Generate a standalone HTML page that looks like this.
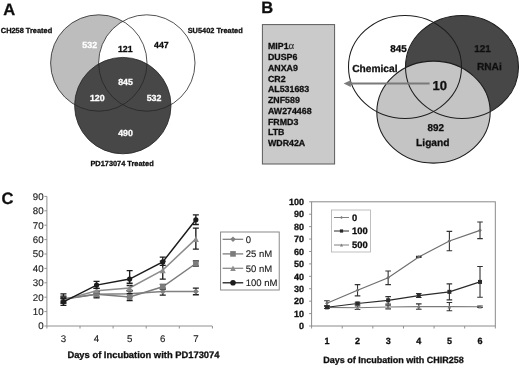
<!DOCTYPE html><html><head><meta charset="utf-8"><title>Figure</title>
<style>html,body{margin:0;padding:0;background:#fff;}svg{display:block;}text{font-family:"Liberation Sans", Arial, sans-serif;text-rendering:geometricPrecision;}</style>
</head><body>
<svg width="520" height="366" viewBox="0 0 520 366">
<defs><filter id="soft" x="0" y="0" width="100%" height="100%" filterUnits="objectBoundingBox"><feGaussianBlur stdDeviation="0.4"/></filter></defs>
<g filter="url(#soft)">
<rect x="-5" y="-5" width="530" height="376" fill="#fff"/>
<text x="3.20" y="14.80" font-size="16.5" font-weight="bold" fill="#111" text-anchor="start" stroke="#111" stroke-width="0.3">A</text>
<circle cx="98.8" cy="63" r="48.2" fill="#bdbdbd"/>
<circle cx="146.8" cy="63" r="48.2" fill="#fff"/>
<circle cx="122.8" cy="105.6" r="48.2" fill="#474747"/>
<circle cx="98.8" cy="63" r="48.2" fill="none" stroke="#262626" stroke-width="0.8"/>
<circle cx="146.8" cy="63" r="48.2" fill="none" stroke="#262626" stroke-width="0.8"/>
<circle cx="122.8" cy="105.6" r="48.2" fill="none" stroke="#262626" stroke-width="0.8"/>
<text x="0.80" y="32.80" font-size="7.4" font-weight="bold" fill="#111" text-anchor="start" stroke="#111" stroke-width="0.3">CH258 Treated</text>
<text x="187.70" y="32.80" font-size="7.4" font-weight="bold" fill="#111" text-anchor="start" stroke="#111" stroke-width="0.3">SU5402 Treated</text>
<text x="90.40" y="165.70" font-size="7.4" font-weight="bold" fill="#111" text-anchor="start" stroke="#111" stroke-width="0.3">PD173074 Treated</text>
<text x="89.70" y="48.00" font-size="8.8" font-weight="bold" fill="#fff" text-anchor="middle" stroke="#fff" stroke-width="0.3">532</text>
<text x="125.30" y="52.40" font-size="8.8" font-weight="bold" fill="#111" text-anchor="middle" stroke="#111" stroke-width="0.3">121</text>
<text x="161.40" y="48.10" font-size="8.8" font-weight="bold" fill="#111" text-anchor="middle" stroke="#111" stroke-width="0.3">447</text>
<text x="125.50" y="84.80" font-size="8.8" font-weight="bold" fill="#fff" text-anchor="middle" stroke="#fff" stroke-width="0.3">845</text>
<text x="97.30" y="101.00" font-size="8.8" font-weight="bold" fill="#fff" text-anchor="middle" stroke="#fff" stroke-width="0.3">120</text>
<text x="154.00" y="101.00" font-size="8.8" font-weight="bold" fill="#fff" text-anchor="middle" stroke="#fff" stroke-width="0.3">532</text>
<text x="125.50" y="135.60" font-size="8.8" font-weight="bold" fill="#fff" text-anchor="middle" stroke="#fff" stroke-width="0.3">490</text>
<text x="261.20" y="13.30" font-size="16.5" font-weight="bold" fill="#111" text-anchor="start" stroke="#111" stroke-width="0.3">B</text>
<rect x="262.4" y="24.6" width="72.2" height="139.4" fill="#cacaca" stroke="#5a5a5a" stroke-width="1"/>
<text x="268.00" y="49.30" font-size="8.8" font-weight="bold" fill="#111" text-anchor="start" stroke="#111" stroke-width="0.3">MIP1<tspan font-weight="normal" font-size="10.8" stroke="#333" stroke-width="0.2" font-family="Liberation Serif, serif" fill="#333">α</tspan></text>
<text x="268.00" y="60.07" font-size="8.8" font-weight="bold" fill="#111" text-anchor="start" stroke="#111" stroke-width="0.3">DUSP6</text>
<text x="268.00" y="70.84" font-size="8.8" font-weight="bold" fill="#111" text-anchor="start" stroke="#111" stroke-width="0.3">ANXA9</text>
<text x="268.00" y="81.61" font-size="8.8" font-weight="bold" fill="#111" text-anchor="start" stroke="#111" stroke-width="0.3">CR2</text>
<text x="268.00" y="92.38" font-size="8.8" font-weight="bold" fill="#111" text-anchor="start" stroke="#111" stroke-width="0.3">AL531683</text>
<text x="268.00" y="103.15" font-size="8.8" font-weight="bold" fill="#111" text-anchor="start" stroke="#111" stroke-width="0.3">ZNF589</text>
<text x="268.00" y="113.92" font-size="8.8" font-weight="bold" fill="#111" text-anchor="start" stroke="#111" stroke-width="0.3">AW274468</text>
<text x="268.00" y="124.69" font-size="8.8" font-weight="bold" fill="#111" text-anchor="start" stroke="#111" stroke-width="0.3">FRMD3</text>
<text x="268.00" y="135.46" font-size="8.8" font-weight="bold" fill="#111" text-anchor="start" stroke="#111" stroke-width="0.3">LTB</text>
<text x="268.00" y="146.23" font-size="8.8" font-weight="bold" fill="#111" text-anchor="start" stroke="#111" stroke-width="0.3">WDR42A</text>
<ellipse cx="462" cy="66.9" rx="56.5" ry="51.5" fill="#474747"/>
<ellipse cx="433.5" cy="112.1" rx="56.7" ry="51" fill="#c4c4c4"/>
<ellipse cx="462" cy="66.9" rx="56.5" ry="51.5" fill="none" stroke="#1e1e1e" stroke-width="1.05"/>
<ellipse cx="433.5" cy="112.1" rx="56.7" ry="51" fill="none" stroke="#1e1e1e" stroke-width="1.05"/>
<ellipse cx="405" cy="66.9" rx="56.5" ry="51.5" fill="none" stroke="#1e1e1e" stroke-width="1.05"/>
<line x1="349" y1="83.6" x2="429.6" y2="83.6" stroke="#7a7a7a" stroke-width="2"/>
<polygon points="343.6,83.6 350.8,80.2 350.8,87" fill="#7a7a7a"/>
<text x="398.40" y="52.00" font-size="9.9" font-weight="bold" fill="#111" text-anchor="middle" stroke="#111" stroke-width="0.3">845</text>
<text x="482.40" y="52.00" font-size="9.9" font-weight="bold" fill="#111" text-anchor="middle" stroke="#111" stroke-width="0.3">121</text>
<text x="352.20" y="72.20" font-size="10.2" font-weight="bold" fill="#111" text-anchor="start" stroke="#111" stroke-width="0.3">Chemical</text>
<text x="476.90" y="70.40" font-size="10.2" font-weight="bold" fill="#111" text-anchor="start" stroke="#111" stroke-width="0.3">RNAi</text>
<text x="432.50" y="90.10" font-size="13" font-weight="bold" fill="#111" text-anchor="start" stroke="#111" stroke-width="0.3">10</text>
<text x="435.70" y="130.60" font-size="9.9" font-weight="bold" fill="#111" text-anchor="middle" stroke="#111" stroke-width="0.3">892</text>
<text x="416.10" y="145.80" font-size="10.2" font-weight="bold" fill="#111" text-anchor="start" stroke="#111" stroke-width="0.3">Ligand</text>
<text x="1.50" y="203.50" font-size="16.5" font-weight="bold" fill="#111" text-anchor="start" stroke="#111" stroke-width="0.3">C</text>
<line x1="46.9" y1="196.4" x2="46.9" y2="326" stroke="#909090" stroke-width="1"/>
<line x1="46.9" y1="326" x2="212.3" y2="326" stroke="#909090" stroke-width="1"/>
<line x1="44.4" y1="326.00" x2="46.9" y2="326.00" stroke="#909090" stroke-width="1"/>
<text x="43.60" y="329.45" font-size="9.7" font-weight="normal" fill="#222" text-anchor="end" stroke="#222" stroke-width="0.15">0</text>
<line x1="44.4" y1="311.60" x2="46.9" y2="311.60" stroke="#909090" stroke-width="1"/>
<text x="43.60" y="315.05" font-size="9.7" font-weight="normal" fill="#222" text-anchor="end" stroke="#222" stroke-width="0.15">10</text>
<line x1="44.4" y1="297.20" x2="46.9" y2="297.20" stroke="#909090" stroke-width="1"/>
<text x="43.60" y="300.65" font-size="9.7" font-weight="normal" fill="#222" text-anchor="end" stroke="#222" stroke-width="0.15">20</text>
<line x1="44.4" y1="282.80" x2="46.9" y2="282.80" stroke="#909090" stroke-width="1"/>
<text x="43.60" y="286.25" font-size="9.7" font-weight="normal" fill="#222" text-anchor="end" stroke="#222" stroke-width="0.15">30</text>
<line x1="44.4" y1="268.40" x2="46.9" y2="268.40" stroke="#909090" stroke-width="1"/>
<text x="43.60" y="271.85" font-size="9.7" font-weight="normal" fill="#222" text-anchor="end" stroke="#222" stroke-width="0.15">40</text>
<line x1="44.4" y1="254.00" x2="46.9" y2="254.00" stroke="#909090" stroke-width="1"/>
<text x="43.60" y="257.45" font-size="9.7" font-weight="normal" fill="#222" text-anchor="end" stroke="#222" stroke-width="0.15">50</text>
<line x1="44.4" y1="239.60" x2="46.9" y2="239.60" stroke="#909090" stroke-width="1"/>
<text x="43.60" y="243.05" font-size="9.7" font-weight="normal" fill="#222" text-anchor="end" stroke="#222" stroke-width="0.15">60</text>
<line x1="44.4" y1="225.20" x2="46.9" y2="225.20" stroke="#909090" stroke-width="1"/>
<text x="43.60" y="228.65" font-size="9.7" font-weight="normal" fill="#222" text-anchor="end" stroke="#222" stroke-width="0.15">70</text>
<line x1="44.4" y1="210.80" x2="46.9" y2="210.80" stroke="#909090" stroke-width="1"/>
<text x="43.60" y="214.25" font-size="9.7" font-weight="normal" fill="#222" text-anchor="end" stroke="#222" stroke-width="0.15">80</text>
<line x1="44.4" y1="196.40" x2="46.9" y2="196.40" stroke="#909090" stroke-width="1"/>
<text x="43.60" y="199.85" font-size="9.7" font-weight="normal" fill="#222" text-anchor="end" stroke="#222" stroke-width="0.15">90</text>
<line x1="46.90" y1="326" x2="46.90" y2="328.5" stroke="#909090" stroke-width="1"/>
<line x1="80.00" y1="326" x2="80.00" y2="328.5" stroke="#909090" stroke-width="1"/>
<line x1="113.10" y1="326" x2="113.10" y2="328.5" stroke="#909090" stroke-width="1"/>
<line x1="146.20" y1="326" x2="146.20" y2="328.5" stroke="#909090" stroke-width="1"/>
<line x1="179.30" y1="326" x2="179.30" y2="328.5" stroke="#909090" stroke-width="1"/>
<line x1="212.40" y1="326" x2="212.40" y2="328.5" stroke="#909090" stroke-width="1"/>
<text x="63.45" y="342.10" font-size="9.7" font-weight="normal" fill="#222" text-anchor="middle" stroke="#222" stroke-width="0.15">3</text>
<text x="96.55" y="342.10" font-size="9.7" font-weight="normal" fill="#222" text-anchor="middle" stroke="#222" stroke-width="0.15">4</text>
<text x="129.65" y="342.10" font-size="9.7" font-weight="normal" fill="#222" text-anchor="middle" stroke="#222" stroke-width="0.15">5</text>
<text x="162.75" y="342.10" font-size="9.7" font-weight="normal" fill="#222" text-anchor="middle" stroke="#222" stroke-width="0.15">6</text>
<text x="195.85" y="342.10" font-size="9.7" font-weight="normal" fill="#222" text-anchor="middle" stroke="#222" stroke-width="0.15">7</text>
<text x="67.40" y="357.70" font-size="9.4" font-weight="bold" fill="#111" text-anchor="start" stroke="#111" stroke-width="0.3">Days of Incubation with PD173074</text>
<polyline points="63.45,298.64 96.55,294.32 129.65,293.74 162.75,291.58 195.85,291.44" fill="none" stroke="#808080" stroke-width="1.5"/>
<path d="M63.45 296.14V301.14M60.45 296.14H66.45M60.45 301.14H66.45" stroke="#1e1e1e" stroke-width="1.35" fill="none"/>
<path d="M96.55 291.82V296.82M93.55 291.82H99.55M93.55 296.82H99.55" stroke="#1e1e1e" stroke-width="1.35" fill="none"/>
<path d="M129.65 290.74V296.74M126.65 290.74H132.65M126.65 296.74H132.65" stroke="#1e1e1e" stroke-width="1.35" fill="none"/>
<path d="M162.75 288.08V295.08M159.75 288.08H165.75M159.75 295.08H165.75" stroke="#1e1e1e" stroke-width="1.35" fill="none"/>
<path d="M195.85 288.14V294.74M192.85 288.14H198.85M192.85 294.74H198.85" stroke="#1e1e1e" stroke-width="1.35" fill="none"/>
<polygon points="63.45,295.64 66.45,298.64 63.45,301.64 60.45,298.64" fill="#808080"/>
<polygon points="96.55,291.32 99.55,294.32 96.55,297.32 93.55,294.32" fill="#808080"/>
<polygon points="129.65,290.74 132.65,293.74 129.65,296.74 126.65,293.74" fill="#808080"/>
<polygon points="162.75,288.58 165.75,291.58 162.75,294.58 159.75,291.58" fill="#808080"/>
<polygon points="195.85,288.44 198.85,291.44 195.85,294.44 192.85,291.44" fill="#808080"/>
<polyline points="63.45,299.36 96.55,294.32 129.65,297.06 162.75,286.83 195.85,263.50" fill="none" stroke="#7c7c7c" stroke-width="1.5"/>
<path d="M63.45 293.86V302.86M60.45 293.86H66.45M60.45 302.86H66.45" stroke="#1e1e1e" stroke-width="1.35" fill="none"/>
<path d="M96.55 291.32V297.82M93.55 291.32H99.55M93.55 297.82H99.55" stroke="#1e1e1e" stroke-width="1.35" fill="none"/>
<path d="M129.65 293.56V300.56M126.65 293.56H132.65M126.65 300.56H132.65" stroke="#1e1e1e" stroke-width="1.35" fill="none"/>
<path d="M162.75 284.33V289.33M159.75 284.33H165.75M159.75 289.33H165.75" stroke="#1e1e1e" stroke-width="1.35" fill="none"/>
<path d="M195.85 261.00V266.00M192.85 261.00H198.85M192.85 266.00H198.85" stroke="#1e1e1e" stroke-width="1.35" fill="none"/>
<rect x="60.65" y="296.56" width="5.60" height="5.60" fill="#7c7c7c"/>
<rect x="93.75" y="291.52" width="5.60" height="5.60" fill="#7c7c7c"/>
<rect x="126.85" y="294.26" width="5.60" height="5.60" fill="#7c7c7c"/>
<rect x="159.95" y="284.03" width="5.60" height="5.60" fill="#7c7c7c"/>
<rect x="193.05" y="260.70" width="5.60" height="5.60" fill="#7c7c7c"/>
<polyline points="63.45,300.08 96.55,290.86 129.65,287.98 162.75,270.13 195.85,238.88" fill="none" stroke="#8c8c8c" stroke-width="1.5"/>
<path d="M63.45 297.08V303.08M60.45 297.08H66.45M60.45 303.08H66.45" stroke="#1e1e1e" stroke-width="1.35" fill="none"/>
<path d="M96.55 288.36V293.36M93.55 288.36H99.55M93.55 293.36H99.55" stroke="#1e1e1e" stroke-width="1.35" fill="none"/>
<path d="M129.65 285.48V290.48M126.65 285.48H132.65M126.65 290.48H132.65" stroke="#1e1e1e" stroke-width="1.35" fill="none"/>
<path d="M162.75 261.13V279.13M159.75 261.13H165.75M159.75 279.13H165.75" stroke="#1e1e1e" stroke-width="1.35" fill="none"/>
<path d="M195.85 228.08V249.18M192.85 228.08H198.85M192.85 249.18H198.85" stroke="#1e1e1e" stroke-width="1.35" fill="none"/>
<polygon points="63.45,297.08 66.45,303.08 60.45,303.08" fill="#8c8c8c"/>
<polygon points="96.55,287.86 99.55,293.86 93.55,293.86" fill="#8c8c8c"/>
<polygon points="129.65,284.98 132.65,290.98 126.65,290.98" fill="#8c8c8c"/>
<polygon points="162.75,267.13 165.75,273.13 159.75,273.13" fill="#8c8c8c"/>
<polygon points="195.85,235.88 198.85,241.88 192.85,241.88" fill="#8c8c8c"/>
<polyline points="63.45,301.81 96.55,285.10 129.65,279.06 162.75,261.92 195.85,219.73" fill="none" stroke="#1c1c1c" stroke-width="1.5"/>
<path d="M63.45 298.31V305.31M60.45 298.31H66.45M60.45 305.31H66.45" stroke="#1e1e1e" stroke-width="1.35" fill="none"/>
<path d="M96.55 281.30V288.40M93.55 281.30H99.55M93.55 288.40H99.55" stroke="#1e1e1e" stroke-width="1.35" fill="none"/>
<path d="M129.65 270.66V283.26M126.65 270.66H132.65M126.65 283.26H132.65" stroke="#1e1e1e" stroke-width="1.35" fill="none"/>
<path d="M162.75 257.12V265.42M159.75 257.12H165.75M159.75 265.42H165.75" stroke="#1e1e1e" stroke-width="1.35" fill="none"/>
<path d="M195.85 214.93V224.53M192.85 214.93H198.85M192.85 224.53H198.85" stroke="#1e1e1e" stroke-width="1.35" fill="none"/>
<circle cx="63.45" cy="301.81" r="2.60" fill="#1c1c1c"/>
<circle cx="96.55" cy="285.10" r="2.60" fill="#1c1c1c"/>
<circle cx="129.65" cy="279.06" r="2.60" fill="#1c1c1c"/>
<circle cx="162.75" cy="261.92" r="2.60" fill="#1c1c1c"/>
<circle cx="195.85" cy="219.73" r="2.60" fill="#1c1c1c"/>
<rect x="220.6" y="232" width="58.6" height="58" fill="#fff" stroke="#7c7c7c" stroke-width="0.9"/>
<line x1="222.6" y1="239.3" x2="243.2" y2="239.3" stroke="#808080" stroke-width="1.3"/>
<polygon points="233.00,236.50 235.80,239.30 233.00,242.10 230.20,239.30" fill="#808080"/>
<text x="245.80" y="242.70" font-size="9.5" font-weight="normal" fill="#222" text-anchor="start" stroke="#222" stroke-width="0.15">0</text>
<line x1="222.6" y1="253.9" x2="243.2" y2="253.9" stroke="#7c7c7c" stroke-width="1.3"/>
<rect x="230.20" y="251.10" width="5.60" height="5.60" fill="#7c7c7c"/>
<text x="245.80" y="257.30" font-size="9.5" font-weight="normal" fill="#222" text-anchor="start" stroke="#222" stroke-width="0.15">25 nM</text>
<line x1="222.6" y1="268.3" x2="243.2" y2="268.3" stroke="#8c8c8c" stroke-width="1.3"/>
<polygon points="233.00,265.50 235.80,271.10 230.20,271.10" fill="#8c8c8c"/>
<text x="245.80" y="271.70" font-size="9.5" font-weight="normal" fill="#222" text-anchor="start" stroke="#222" stroke-width="0.15">50 nM</text>
<line x1="222.6" y1="282.8" x2="243.2" y2="282.8" stroke="#1c1c1c" stroke-width="1.3"/>
<circle cx="233.00" cy="282.80" r="2.80" fill="#1c1c1c"/>
<text x="245.80" y="286.20" font-size="9.5" font-weight="normal" fill="#222" text-anchor="start" stroke="#222" stroke-width="0.15">100 nM</text>
<rect x="311.6" y="201.80" width="183.72" height="124.20" fill="none" stroke="#8a8a8a" stroke-width="1"/>
<line x1="309.1" y1="326.00" x2="311.6" y2="326.00" stroke="#909090" stroke-width="1"/>
<text x="304.00" y="329.20" font-size="9" font-weight="bold" fill="#111" text-anchor="end" stroke="#111" stroke-width="0.3">0</text>
<line x1="309.1" y1="313.58" x2="311.6" y2="313.58" stroke="#909090" stroke-width="1"/>
<text x="304.00" y="316.78" font-size="9" font-weight="bold" fill="#111" text-anchor="end" stroke="#111" stroke-width="0.3">10</text>
<line x1="309.1" y1="301.16" x2="311.6" y2="301.16" stroke="#909090" stroke-width="1"/>
<text x="304.00" y="304.36" font-size="9" font-weight="bold" fill="#111" text-anchor="end" stroke="#111" stroke-width="0.3">20</text>
<line x1="309.1" y1="288.74" x2="311.6" y2="288.74" stroke="#909090" stroke-width="1"/>
<text x="304.00" y="291.94" font-size="9" font-weight="bold" fill="#111" text-anchor="end" stroke="#111" stroke-width="0.3">30</text>
<line x1="309.1" y1="276.32" x2="311.6" y2="276.32" stroke="#909090" stroke-width="1"/>
<text x="304.00" y="279.52" font-size="9" font-weight="bold" fill="#111" text-anchor="end" stroke="#111" stroke-width="0.3">40</text>
<line x1="309.1" y1="263.90" x2="311.6" y2="263.90" stroke="#909090" stroke-width="1"/>
<text x="304.00" y="267.10" font-size="9" font-weight="bold" fill="#111" text-anchor="end" stroke="#111" stroke-width="0.3">50</text>
<line x1="309.1" y1="251.48" x2="311.6" y2="251.48" stroke="#909090" stroke-width="1"/>
<text x="304.00" y="254.68" font-size="9" font-weight="bold" fill="#111" text-anchor="end" stroke="#111" stroke-width="0.3">60</text>
<line x1="309.1" y1="239.06" x2="311.6" y2="239.06" stroke="#909090" stroke-width="1"/>
<text x="304.00" y="242.26" font-size="9" font-weight="bold" fill="#111" text-anchor="end" stroke="#111" stroke-width="0.3">70</text>
<line x1="309.1" y1="226.64" x2="311.6" y2="226.64" stroke="#909090" stroke-width="1"/>
<text x="304.00" y="229.84" font-size="9" font-weight="bold" fill="#111" text-anchor="end" stroke="#111" stroke-width="0.3">80</text>
<line x1="309.1" y1="214.22" x2="311.6" y2="214.22" stroke="#909090" stroke-width="1"/>
<text x="304.00" y="217.42" font-size="9" font-weight="bold" fill="#111" text-anchor="end" stroke="#111" stroke-width="0.3">90</text>
<line x1="309.1" y1="201.80" x2="311.6" y2="201.80" stroke="#909090" stroke-width="1"/>
<text x="304.00" y="205.00" font-size="9" font-weight="bold" fill="#111" text-anchor="end" stroke="#111" stroke-width="0.3">100</text>
<line x1="311.60" y1="326" x2="311.60" y2="328.5" stroke="#909090" stroke-width="1"/>
<line x1="342.22" y1="326" x2="342.22" y2="328.5" stroke="#909090" stroke-width="1"/>
<line x1="372.84" y1="326" x2="372.84" y2="328.5" stroke="#909090" stroke-width="1"/>
<line x1="403.46" y1="326" x2="403.46" y2="328.5" stroke="#909090" stroke-width="1"/>
<line x1="434.08" y1="326" x2="434.08" y2="328.5" stroke="#909090" stroke-width="1"/>
<line x1="464.70" y1="326" x2="464.70" y2="328.5" stroke="#909090" stroke-width="1"/>
<line x1="495.32" y1="326" x2="495.32" y2="328.5" stroke="#909090" stroke-width="1"/>
<text x="326.91" y="343.50" font-size="9" font-weight="bold" fill="#111" text-anchor="middle" stroke="#111" stroke-width="0.3">1</text>
<text x="357.53" y="343.50" font-size="9" font-weight="bold" fill="#111" text-anchor="middle" stroke="#111" stroke-width="0.3">2</text>
<text x="388.15" y="343.50" font-size="9" font-weight="bold" fill="#111" text-anchor="middle" stroke="#111" stroke-width="0.3">3</text>
<text x="418.77" y="343.50" font-size="9" font-weight="bold" fill="#111" text-anchor="middle" stroke="#111" stroke-width="0.3">4</text>
<text x="449.39" y="343.50" font-size="9" font-weight="bold" fill="#111" text-anchor="middle" stroke="#111" stroke-width="0.3">5</text>
<text x="480.01" y="343.50" font-size="9" font-weight="bold" fill="#111" text-anchor="middle" stroke="#111" stroke-width="0.3">6</text>
<text x="323.30" y="362.90" font-size="9" font-weight="bold" fill="#111" text-anchor="start" stroke="#111" stroke-width="0.3">Days of Incubation with CHIR258</text>
<polyline points="326.91,307.37 357.53,307.74 388.15,307.00 418.77,306.62 449.39,306.62 480.01,306.75" fill="none" stroke="#7a7a7a" stroke-width="1.2"/>
<path d="M326.91 306.17V308.57M324.11 306.17H329.71M324.11 308.57H329.71" stroke="#333" stroke-width="1.1" fill="none"/>
<path d="M357.53 305.94V309.54M354.73 305.94H360.33M354.73 309.54H360.33" stroke="#333" stroke-width="1.1" fill="none"/>
<path d="M388.15 305.10V308.90M385.35 305.10H390.95M385.35 308.90H390.95" stroke="#333" stroke-width="1.1" fill="none"/>
<path d="M418.77 303.92V309.32M415.97 303.92H421.57M415.97 309.32H421.57" stroke="#333" stroke-width="1.1" fill="none"/>
<path d="M449.39 302.52V310.72M446.59 302.52H452.19M446.59 310.72H452.19" stroke="#333" stroke-width="1.1" fill="none"/>
<path d="M480.01 306.05V307.45M477.21 306.05H482.81M477.21 307.45H482.81" stroke="#333" stroke-width="1.1" fill="none"/>
<polygon points="326.91,305.57 328.71,309.17 325.11,309.17" fill="#7a7a7a"/>
<polygon points="357.53,305.94 359.33,309.54 355.73,309.54" fill="#7a7a7a"/>
<polygon points="388.15,305.20 389.95,308.80 386.35,308.80" fill="#7a7a7a"/>
<polygon points="418.77,304.82 420.57,308.42 416.97,308.42" fill="#7a7a7a"/>
<polygon points="449.39,304.82 451.19,308.42 447.59,308.42" fill="#7a7a7a"/>
<polygon points="480.01,304.95 481.81,308.55 478.21,308.55" fill="#7a7a7a"/>
<polyline points="326.91,307.25 357.53,303.52 388.15,300.29 418.77,295.57 449.39,291.85 480.01,281.91" fill="none" stroke="#2a2a2a" stroke-width="1.2"/>
<path d="M326.91 306.05V308.45M324.11 306.05H329.71M324.11 308.45H329.71" stroke="#333" stroke-width="1.1" fill="none"/>
<path d="M357.53 302.32V304.72M354.73 302.32H360.33M354.73 304.72H360.33" stroke="#333" stroke-width="1.1" fill="none"/>
<path d="M388.15 296.59V303.99M385.35 296.59H390.95M385.35 303.99H390.95" stroke="#333" stroke-width="1.1" fill="none"/>
<path d="M418.77 293.57V297.57M415.97 293.57H421.57M415.97 297.57H421.57" stroke="#333" stroke-width="1.1" fill="none"/>
<path d="M449.39 283.85V299.85M446.59 283.85H452.19M446.59 299.85H452.19" stroke="#333" stroke-width="1.1" fill="none"/>
<path d="M480.01 266.51V297.31M477.21 266.51H482.81M477.21 297.31H482.81" stroke="#333" stroke-width="1.1" fill="none"/>
<rect x="324.91" y="305.25" width="4.00" height="4.00" fill="#2a2a2a"/>
<rect x="355.53" y="301.52" width="4.00" height="4.00" fill="#2a2a2a"/>
<rect x="386.15" y="298.29" width="4.00" height="4.00" fill="#2a2a2a"/>
<rect x="416.77" y="293.57" width="4.00" height="4.00" fill="#2a2a2a"/>
<rect x="447.39" y="289.85" width="4.00" height="4.00" fill="#2a2a2a"/>
<rect x="478.01" y="279.91" width="4.00" height="4.00" fill="#2a2a2a"/>
<polyline points="326.91,303.27 357.53,290.23 388.15,277.81 418.77,256.94 449.39,241.05 480.01,230.37" fill="none" stroke="#6e6e6e" stroke-width="1.2"/>
<path d="M326.91 300.77V305.77M324.11 300.77H329.71M324.11 305.77H329.71" stroke="#333" stroke-width="1.1" fill="none"/>
<path d="M357.53 284.63V295.83M354.73 284.63H360.33M354.73 295.83H360.33" stroke="#333" stroke-width="1.1" fill="none"/>
<path d="M388.15 271.01V284.61M385.35 271.01H390.95M385.35 284.61H390.95" stroke="#333" stroke-width="1.1" fill="none"/>
<path d="M418.77 256.34V257.54M415.97 256.34H421.57M415.97 257.54H421.57" stroke="#333" stroke-width="1.1" fill="none"/>
<path d="M449.39 231.35V250.75M446.59 231.35H452.19M446.59 250.75H452.19" stroke="#333" stroke-width="1.1" fill="none"/>
<path d="M480.01 222.07V238.67M477.21 222.07H482.81M477.21 238.67H482.81" stroke="#333" stroke-width="1.1" fill="none"/>
<polygon points="326.91,301.47 328.71,303.27 326.91,305.07 325.11,303.27" fill="#6e6e6e"/>
<polygon points="357.53,288.43 359.33,290.23 357.53,292.03 355.73,290.23" fill="#6e6e6e"/>
<polygon points="388.15,276.01 389.95,277.81 388.15,279.61 386.35,277.81" fill="#6e6e6e"/>
<polygon points="418.77,255.14 420.57,256.94 418.77,258.74 416.97,256.94" fill="#6e6e6e"/>
<polygon points="449.39,239.25 451.19,241.05 449.39,242.85 447.59,241.05" fill="#6e6e6e"/>
<polygon points="480.01,228.57 481.81,230.37 480.01,232.17 478.21,230.37" fill="#6e6e6e"/>
<rect x="331.4" y="210" width="39" height="42" fill="#fff" stroke="#b0b0b0" stroke-width="0.8"/>
<line x1="334" y1="217.5" x2="349" y2="217.5" stroke="#808080" stroke-width="1"/>
<polygon points="341.50,215.90 343.10,217.50 341.50,219.10 339.90,217.50" fill="#808080"/>
<text x="352.00" y="220.80" font-size="9.4" font-weight="bold" fill="#111" text-anchor="start" stroke="#111" stroke-width="0.3">0</text>
<line x1="334" y1="231" x2="349" y2="231" stroke="#2a2a2a" stroke-width="1"/>
<rect x="339.90" y="229.40" width="3.20" height="3.20" fill="#2a2a2a"/>
<text x="352.00" y="234.30" font-size="9.4" font-weight="bold" fill="#111" text-anchor="start" stroke="#111" stroke-width="0.3">100</text>
<line x1="334" y1="245" x2="349" y2="245" stroke="#808080" stroke-width="1"/>
<polygon points="341.50,243.40 343.10,246.60 339.90,246.60" fill="#808080"/>
<text x="352.00" y="248.30" font-size="9.4" font-weight="bold" fill="#111" text-anchor="start" stroke="#111" stroke-width="0.3">500</text>
</g></svg></body></html>
